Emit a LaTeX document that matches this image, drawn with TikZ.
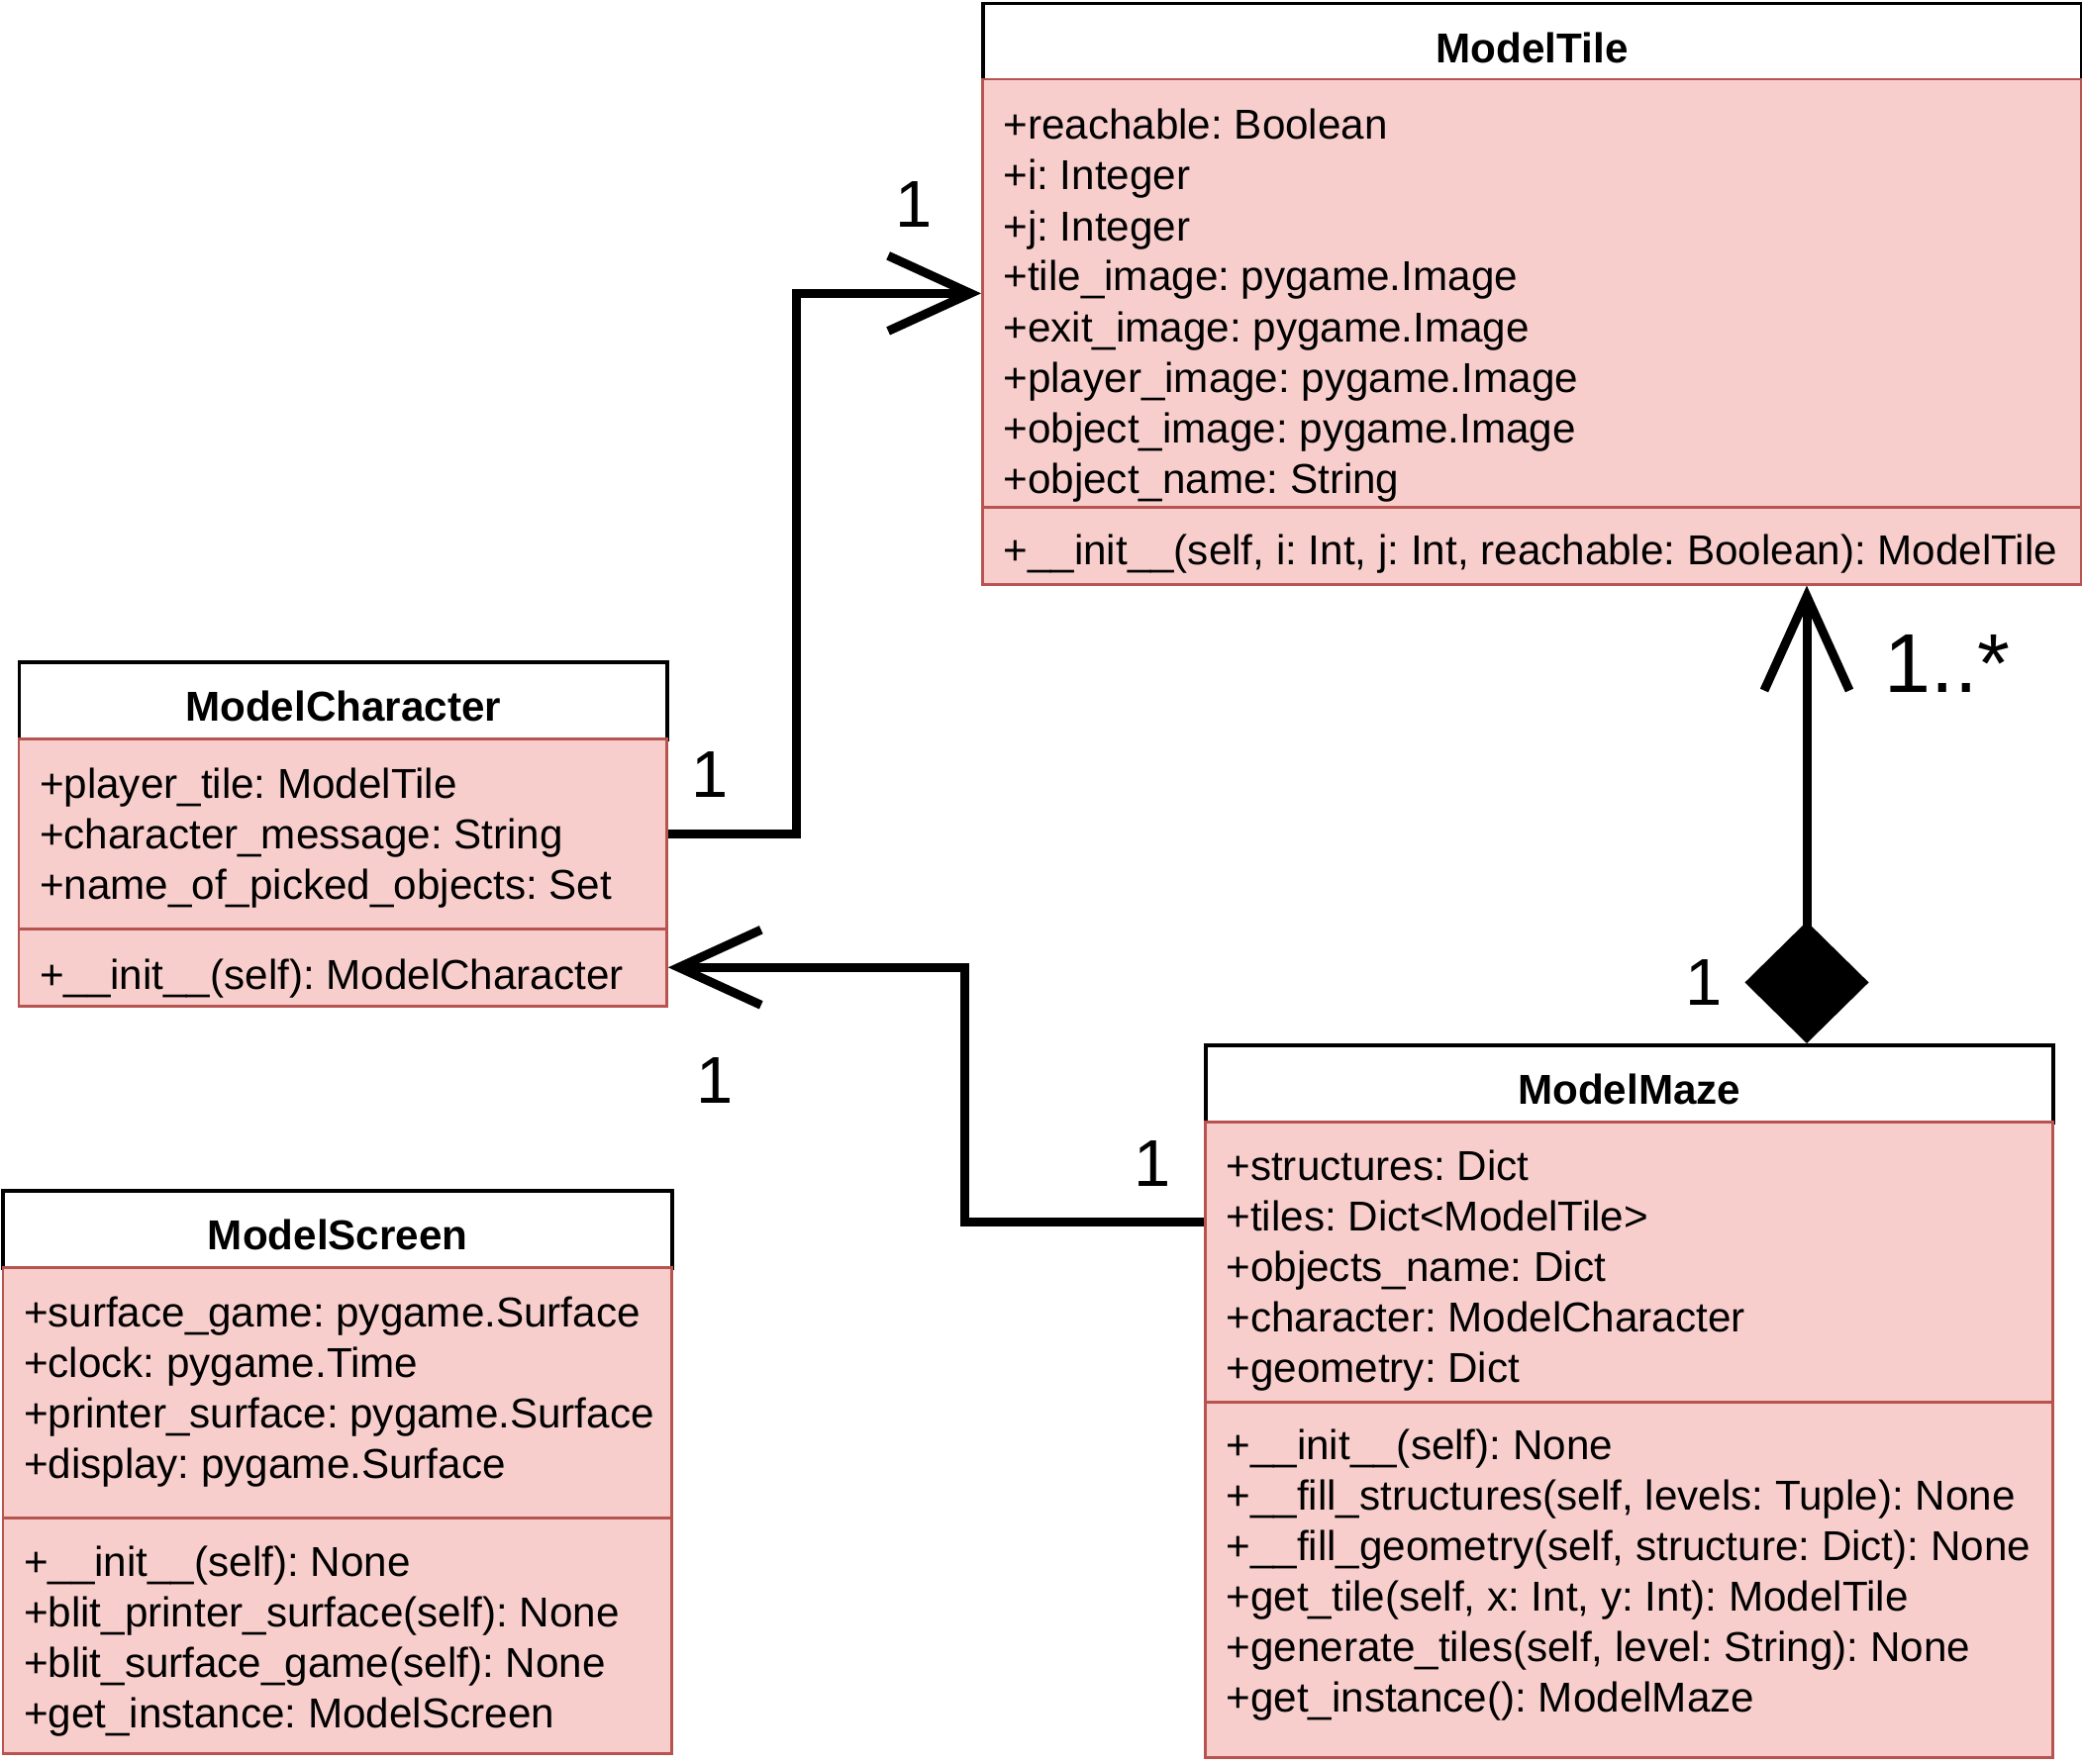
\documentclass[tikz,border=0pt]{standalone}
\usepackage{fontspec}
\setmainfont{Liberation Sans}
\usetikzlibrary{arrows.meta,positioning,calc}
\definecolor{umlfill}{HTML}{F8CECC}
\definecolor{umlline}{HTML}{B85450}
\frenchspacing

\begin{document}
\begin{tikzpicture}[x=0.01cm,y=-0.01cm,line width=0.9mm]
    \tikzstyle{head}=[rectangle,draw=black,fill=white,line width=0.35mm,anchor=north west,inner sep=0,minimum height=7.8mm,text height=4.2mm,text depth=0pt,font=\fontsize{12}{14}\selectfont\bfseries]
    \tikzstyle{part}=[rectangle,draw=umlline,fill=umlfill,line width=0.25mm,anchor=north west,inner sep=0]
    \tikzstyle{row}=[anchor=base west,inner sep=0,font=\fontsize{12}{14}\selectfont]
    \tikzstyle{mult}=[anchor=base,inner sep=0,font=\fontsize{19}{22}\selectfont]
    \tikzstyle{assoc}=[-{Straight Barb[length=8.3mm 0 0,width=7.6mm 0 0]}]

    \useasboundingbox (0,0) rectangle (2103,1782);

    % ModelTile
    \node[head,minimum width=11.09cm](tile) at (991,2) {ModelTile};
    \node[part,minimum width=11.09cm,minimum height=4.32cm](tileattr) at (991,79) {};
    \node[part,minimum width=11.09cm,minimum height=0.78cm](tilemeth) at (991,511) {};
    \foreach \t [count=\i from 0] in {{+reachable: Boolean},{+i: Integer},{+j: Integer},{+tile\_image: pygame.Image},{+exit\_image: pygame.Image},{+player\_image: pygame.Image},{+object\_image: pygame.Image},{+object\_name: String}}
      \node[row](tilea\i) at (1009,141+51*\i) {\t};
    \node[row](tilem0) at (1009,570) {+\_\_init\_\_(self, i: Int, j: Int, reachable: Boolean): ModelTile};

    % ModelCharacter
    \node[head,minimum width=6.545cm](char) at (17.5,667) {ModelCharacter};
    \node[part,minimum width=6.545cm,minimum height=1.92cm](charattr) at (17.5,745) {};
    \node[part,minimum width=6.545cm,minimum height=0.78cm](charmeth) at (17.5,937) {};
    \foreach \t [count=\i from 0] in {{+player\_tile: ModelTile},{+character\_message: String},{+name\_of\_picked\_objects: Set}}
      \node[row](chara\i) at (35.5,806+51*\i) {\t};
    \node[row](charm0) at (35.5,999) {+\_\_init\_\_(self): ModelCharacter};

    % ModelScreen
    \node[head,minimum width=6.755cm](screen) at (1.5,1201) {ModelScreen};
    \node[part,minimum width=6.755cm,minimum height=2.53cm](screenattr) at (1.5,1279) {};
    \node[part,minimum width=6.755cm,minimum height=2.38cm](screenmeth) at (1.5,1532) {};
    \foreach \t [count=\i from 0] in {{+surface\_game: pygame.Surface},{+clock: pygame.Time},{+printer\_surface: pygame.Surface},{+display: pygame.Surface}}
      \node[row](screena\i) at (19.5,1340+51*\i) {\t};
    \foreach \t [count=\i from 0] in {{+\_\_init\_\_(self): None},{+blit\_printer\_surface(self): None},{+blit\_surface\_game(self): None},{+get\_instance: ModelScreen}}
      \node[row](screenm\i) at (19.5,1592+51*\i) {\t};

    % ModelMaze
    \node[head,minimum width=8.555cm](maze) at (1216,1054) {ModelMaze};
    \node[part,minimum width=8.555cm,minimum height=2.83cm](mazeattr) at (1216,1132) {};
    \node[part,minimum width=8.555cm,minimum height=3.59cm](mazemeth) at (1216,1415) {};
    \foreach \t [count=\i from 0] in {{+structures: Dict},{+tiles: Dict<ModelTile>},{+objects\_name: Dict},{+character: ModelCharacter},{+geometry: Dict}}
      \node[row](mazea\i) at (1234,1192+51*\i) {\t};
    \foreach \t [count=\i from 0] in {{+\_\_init\_\_(self): None},{+\_\_fill\_structures(self, levels: Tuple): None},{+\_\_fill\_geometry(self, structure: Dict): None},{+get\_tile(self, x: Int, y: Int): ModelTile},{+generate\_tiles(self, level: String): None},{+get\_instance(): ModelMaze}}
      \node[row](mazem\i) at (1234,1474+51*\i) {\t};

    % links
    \draw[assoc] (charattr.east) -- ++(130,0) |- (tileattr.west);
    \coordinate (mazeout) at (1216,1234);
    \draw[assoc] (mazeout) -- ++(-242,0) |- (charmeth.east);
    \coordinate (mazetop) at (1825,1054);
    \draw[{Diamond[length=12.3mm 0 0,width=12.5mm 0 0]}-{Straight Barb[length=9.5mm 0 0,width=8.6mm 0 0]}] (mazetop) -- (mazetop |- tilemeth.south);

    % multiplicities
    \node[mult](m1) at (923,230) {1};
    \node[mult](m2) at (717,805) {1};
    \node[mult](m3) at (722,1114) {1};
    \node[mult](m4) at (1164,1198) {1};
    \node[mult](m5) at (1721,1015) {1};
    \node[mult,font=\fontsize{24}{28}\selectfont](m6) at (1967,699) {1..*};
\end{tikzpicture}
\end{document}
